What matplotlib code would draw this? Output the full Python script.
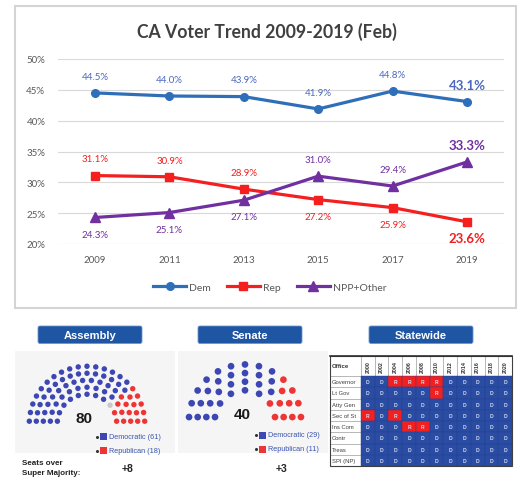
import math
import matplotlib
matplotlib.use("Agg")
import matplotlib.pyplot as plt
from matplotlib.patches import Rectangle, FancyBboxPatch, Circle

# ---- data ----
years = ["2009", "2011", "2013", "2015", "2017", "2019"]
dem = [44.5, 44.0, 43.9, 41.9, 44.8, 43.1]
rep = [31.1, 30.9, 28.9, 27.2, 25.9, 23.6]
npp = [24.3, 25.1, 27.1, 31.0, 29.4, 33.3]
# where the value label sits: 1 above the point, -1 below
dem_side = [1, 1, 1, 1, 1, 1]
rep_side = [1, 1, 1, -1, -1, -1]
npp_side = [-1, -1, -1, 1, 1, 1]

assembly_total = 80
assembly_seats = [61, 18]   # Democratic, Republican (rest vacant)
senate_total = 40
senate_seats = [29, 11]
assembly_plus = "+8"
senate_plus = "+3"

offices = ["Governor", "Lt Gov", "Atty Gen", "Sec of St", "Ins Com", "Contr", "Treas", "SPI (NP)"]
terms = ["2000", "2002", "2004", "2006", "2008", "2010", "2012", "2014", "2016", "2018", "2020"]
holders = ["DDRRRRDDDDD",
           "DDDDDRDDDDD",
           "DDDDDDDDDDD",
           "RDRDDDDDDDD",
           "DDDRRDDDDDD",
           "DDDDDDDDDDD",
           "DDDDDDDDDDD",
           "DDDDDDDDDDD"]

# colours
c_dem, c_dem_txt = "#2f6fba", "#4a68bd"
c_rep = "#f41f1f"
c_npp = "#7030a0"
seat_blue, seat_red = "#3d47b3", "#ee3535"
hdr_blue = "#1f56a3"
cell_blue, cell_red = "#2b4ca3", "#f42020"

W, H = 524, 485
fig = plt.figure(figsize=(W / 100, H / 100), dpi=100)

# full-figure pixel axes for the frame and the bottom panels
bg = fig.add_axes([0, 0, 1, 1], zorder=0)
bg.set_xlim(0, W)
bg.set_ylim(H, 0)
bg.axis("off")

bg.add_patch(Rectangle((15, 7), 501, 302, facecolor="white", edgecolor="#d4d4d4", lw=1.5))
bg.text(267, 32, "CA Voter Trend 2009-2019 (Feb)", ha="center", va="center",
        fontsize=12.7, fontweight="bold", color="#404040", family="Lato")

# ---- line chart ----
ax = fig.add_axes([57.8 / W, 1 - 245 / H, 446.4 / W, 185 / H], zorder=1)
ax.set_facecolor("none")
x = list(range(len(years)))
ax.plot(x, dem, color=c_dem, lw=2.3, marker="o", ms=5.5, label="Dem")
ax.plot(x, rep, color=c_rep, lw=2.3, marker="s", ms=5.5, label="Rep")
ax.plot(x, npp, color=c_npp, lw=2.3, marker="^", ms=6.5, label="NPP+Other")

for vals, sides, col in [(dem, dem_side, c_dem_txt), (rep, rep_side, c_rep), (npp, npp_side, c_npp)]:
    for i, (v, s) in enumerate(zip(vals, sides)):
        big = i == len(vals) - 1
        ax.annotate(f"{v:.1f}%", (i, v), xytext=(0, 12 * s), textcoords="offset points",
                    ha="center", va="center", fontsize=9.5 if big else 7,
                    color=col, family="Lato", fontweight="bold" if big else "normal")

ax.set_xlim(-0.5, 5.5)
ax.set_ylim(20, 50)
ax.set_yticks(range(20, 51, 5))
ax.set_yticklabels([f"{t}%" for t in range(20, 51, 5)])
ax.set_xticks(x)
ax.set_xticklabels(years)
ax.tick_params(length=0, labelsize=7, labelcolor="#595959")
ax.tick_params(axis="x", pad=8)
ax.tick_params(axis="y", pad=9)
for lab in ax.get_xticklabels() + ax.get_yticklabels():
    lab.set_family("Lato")
ax.grid(axis="y", color="#d9d9d9", lw=0.8)
ax.set_axisbelow(True)
for sp in ax.spines.values():
    sp.set_visible(False)
ax.legend(loc="center", bbox_to_anchor=(0.475, -0.232), ncol=3, frameon=False,
          handlelength=3.2, columnspacing=1.5, handletextpad=0.3,
          prop={"family": "Lato", "size": 7.5}, labelcolor="#595959")

# ---- bottom panels ----
for x0, x1 in [(15, 175), (178, 328)]:
    bg.add_patch(Rectangle((x0, 352), x1 - x0, 102, facecolor="#f5f5f5", edgecolor="none"))

for cx, label in [(90, "Assembly"), (250, "Senate"), (421, "Statewide")]:
    bg.add_patch(FancyBboxPatch((cx - 52, 327), 104, 17.5, boxstyle="round,pad=0,rounding_size=2",
                                facecolor=hdr_blue, edgecolor="#6f95cc", lw=0.6))
    bg.text(cx, 336, label, ha="center", va="center", color="white", fontsize=8,
            fontweight="bold", family="Liberation Sans")

TOTALS = [3, 15, 33, 61, 95, 138, 189, 247]


def parliament(n):
    rows = next(i + 1 for i, t in enumerate(TOTALS) if t >= n)
    rad = 0.4 / rows
    pts = []

    def ring(J, R):
        for j in range(J):
            a = j * (math.pi - 2 * math.sin(rad / R)) / (J - 1) + math.sin(rad / R)
            pts.append((a, R * math.cos(a), R * math.sin(a)))

    for i in range(1, rows):
        J = int(n / TOTALS[rows - 1] * math.pi / (2 * math.asin(2 / (3 * rows + 4 * i - 2))))
        ring(J, (3 * rows + 4 * i - 2) / (4 * rows))
    ring(n - len(pts), (7 * rows - 2) / (4 * rows))
    pts.sort(reverse=True)
    return pts, rad


def draw_house(total, seats, cx, cy, scale):
    pts, rad = parliament(total)
    colors = [seat_blue] * seats[0] + ["#c9c9c9"] * (total - sum(seats)) + [seat_red] * seats[1]
    for (a, px, py), col in zip(pts, colors):
        bg.add_patch(Circle((cx + px * scale, cy - py * scale), rad * scale * 0.97,
                            facecolor=col, edgecolor="none"))
    bg.text(cx - 3, cy - 6, str(total), ha="center", va="center", fontsize=11,
            fontweight="bold", family="Liberation Sans", color="#1a1a1a")


draw_house(assembly_total, assembly_seats, 87, 425, 35)
draw_house(senate_total, senate_seats, 245, 421.5, 34.5)

for lx, ly, seats in [(97, 437.5, assembly_seats), (256, 436, senate_seats)]:
    for k, (name, col) in enumerate([("Democratic", seat_blue), ("Republican", seat_red)]):
        yy = ly + k * 14
        bg.plot(lx, yy, "o", color="#333333", ms=1.2)
        bg.add_patch(Rectangle((lx + 3, yy - 3.5), 7, 7, facecolor=col, edgecolor="none"))
        bg.text(lx + 12, yy, f"{name} ({seats[k]})", ha="left", va="center", fontsize=5.2,
                color="#3a55b0", family="Liberation Sans")

bg.text(22, 464, "Seats over", ha="left", va="center", fontsize=5.8, fontweight="bold",
        family="Liberation Sans", color="#222222")
bg.text(22, 474, "Super Majority:", ha="left", va="center", fontsize=5.8, fontweight="bold",
        family="Liberation Sans", color="#222222")
bg.text(128, 469, assembly_plus, ha="center", va="center", fontsize=7.5, fontweight="bold",
        family="Liberation Sans", color="#222222")
bg.text(282, 469, senate_plus, ha="center", va="center", fontsize=7.5, fontweight="bold",
        family="Liberation Sans", color="#222222")

# ---- statewide table ----
tx0, lab_w = 330, 31
cw = (512 - 361) / len(terms)
hy0, hy1 = 357, 377
rh = 11.25

bg.add_patch(Rectangle((tx0, hy0), lab_w, hy1 - hy0, facecolor="white", edgecolor="#9a9a9a", lw=0.4))
bg.text(tx0 + 2, (hy0 + hy1) / 2, "Office", ha="left", va="center", fontsize=4.3,
        family="Liberation Sans", color="#333333", fontweight="bold")
for j, t in enumerate(terms):
    xx = tx0 + lab_w + j * cw
    bg.add_patch(Rectangle((xx, hy0), cw, hy1 - hy0, facecolor="white", edgecolor="#9a9a9a", lw=0.4))
    bg.text(xx + cw / 2, (hy0 + hy1) / 2, t, ha="center", va="center", rotation=90,
            fontsize=3.8, family="Liberation Sans", color="#333333", fontweight="bold")

for i, (office, row) in enumerate(zip(offices, holders)):
    yy = hy1 + i * rh
    bg.add_patch(Rectangle((tx0, yy), lab_w, rh, facecolor="white", edgecolor="#9a9a9a", lw=0.4))
    bg.text(tx0 + 1.5, yy + rh / 2, office, ha="left", va="center", fontsize=4.2,
            family="Liberation Sans", color="#404040")
    for j, p in enumerate(row):
        xx = tx0 + lab_w + j * cw
        bg.add_patch(Rectangle((xx, yy), cw, rh, facecolor=cell_red if p == "R" else cell_blue,
                               edgecolor="#24418f", lw=0.3))
        bg.text(xx + cw / 2, yy + rh / 2, p, ha="center", va="center", fontsize=3.6,
                family="Liberation Sans", color="#d0daf2", fontweight="bold")

bg.add_patch(Rectangle((tx0, hy0), lab_w + cw * len(terms), hy1 - hy0 + rh * len(offices),
                       facecolor="none", edgecolor="#404040", lw=0.8))
bg.plot([tx0, tx0 + lab_w + cw * len(terms)], [hy0, hy0], color="#303030", lw=1.2)

fig.savefig("out.png", dpi=100)
